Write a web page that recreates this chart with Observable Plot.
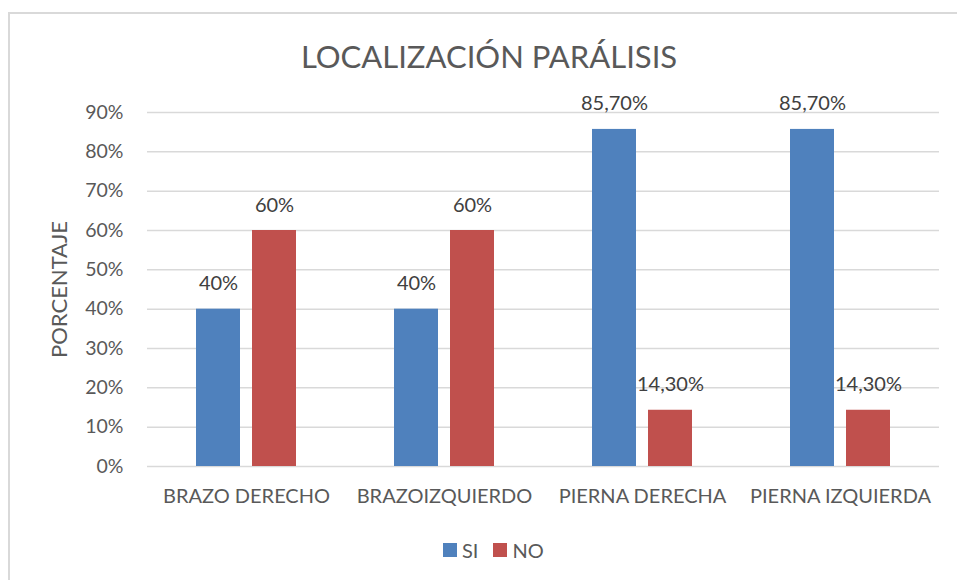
<!DOCTYPE html>
<html>
<head>
<meta charset="utf-8">
<script src="https://cdn.jsdelivr.net/npm/d3@7"></script>
<script src="https://cdn.jsdelivr.net/npm/@observablehq/plot@0.6"></script>
<style>
  html, body { margin: 0; padding: 0; background: #fff; }
  #wrap { position: relative; width: 957px; height: 580px; overflow: hidden; background: #fff; font-family: Lato, "Open Sans", sans-serif; }
  #frame { position: absolute; left: 8px; top: 12px; right: -4px; bottom: -4px; border-left: 2px solid #D9D9D9; border-top: 2px solid #D9D9D9; }
  #title { position: absolute; left: 289px; width: 400px; top: 41px; text-align: center; font-size: 31px; line-height: 31px; color: #595959; white-space: nowrap; }
  #chart { position: absolute; left: 0; top: 0; }
  #legend { position: absolute; left: 443px; top: 540px; display: flex; align-items: center; font-size: 20px; line-height: 20px; color: #595959; }
  .item { display: flex; align-items: center; margin-right: 15px; }
  .sw { width: 14px; height: 14px; margin-right: 5px; }
</style>
</head>
<body>
<div id="wrap">
  <div id="frame"></div>
  <div id="chart"></div>
  <div id="title"></div>
  <div id="legend"></div>
</div>
<script>
const chartTitle = "LOCALIZACIÓN PARÁLISIS";
const yLabel = "PORCENTAJE";
const categories = ["BRAZO DERECHO", "BRAZOIZQUIERDO", "PIERNA DERECHA", "PIERNA IZQUIERDA"];
const series = ["SI", "NO"];
const siValues = [0.40, 0.40, 0.857, 0.857];
const noValues = [0.60, 0.60, 0.143, 0.143];
const siLabels = ["40%", "40%", "85,70%", "85,70%"];
const noLabels = ["60%", "60%", "14,30%", "14,30%"];
const yTicks = [0, 0.1, 0.2, 0.3, 0.4, 0.5, 0.6, 0.7, 0.8, 0.9];
const colors = ["#4F81BD", "#C0504D"];

const data = [];
categories.forEach((c, i) => {
  data.push({cat: c, serie: "SI", value: siValues[i], label: siLabels[i]});
  data.push({cat: c, serie: "NO", value: noValues[i], label: noLabels[i]});
});

document.getElementById("title").textContent = chartTitle;

const plot = Plot.plot({
  width: 957,
  height: 520,
  marginLeft: 147,
  marginRight: 18,
  marginTop: 112,
  marginBottom: 54,
  style: {fontFamily: "Lato, 'Open Sans', sans-serif", background: "transparent", overflow: "visible"},
  fx: {domain: categories, padding: 0, label: null},
  x: {domain: series, paddingInner: 0.2124, paddingOuter: 0.858, axis: null},
  y: {domain: [0, 0.9], ticks: yTicks},
  color: {domain: series, range: colors},
  marks: [
    Plot.gridY(yTicks, {stroke: "#D9D9D9", strokeOpacity: 1, strokeWidth: 1.5}),
    Plot.axisY(yTicks, {
      tickSize: 0, tickPadding: 24, fontSize: 19.5, fill: "#595959",
      tickFormat: d => Math.round(d * 100) + "%",
      label: yLabel, labelAnchor: "center", labelArrow: "none", labelOffset: 96
    }),
    Plot.axisFx({anchor: "bottom", tickSize: 0, tickPadding: 22, fontSize: 20, fill: "#595959", label: null}),
    Plot.barY(data, {fx: "cat", x: "serie", y: "value", fill: "serie"}),
    Plot.text(data, {fx: "cat", x: "serie", y: "value", text: "label", lineAnchor: "bottom", dy: -19, fontSize: 20, fill: "#404040"})
  ]
});
document.getElementById("chart").appendChild(plot);
plot.querySelectorAll("text").forEach(t => {
  if (t.textContent === yLabel) { t.setAttribute("font-size", "22"); t.style.fontSize = "22px"; t.setAttribute("fill", "#595959"); }
});

const legend = document.getElementById("legend");
series.forEach((s, i) => {
  const item = document.createElement("div");
  item.className = "item";
  const sw = document.createElement("div");
  sw.className = "sw";
  sw.style.background = colors[i];
  const lab = document.createElement("span");
  lab.textContent = s;
  item.appendChild(sw);
  item.appendChild(lab);
  legend.appendChild(item);
});
</script>
</body>
</html>
